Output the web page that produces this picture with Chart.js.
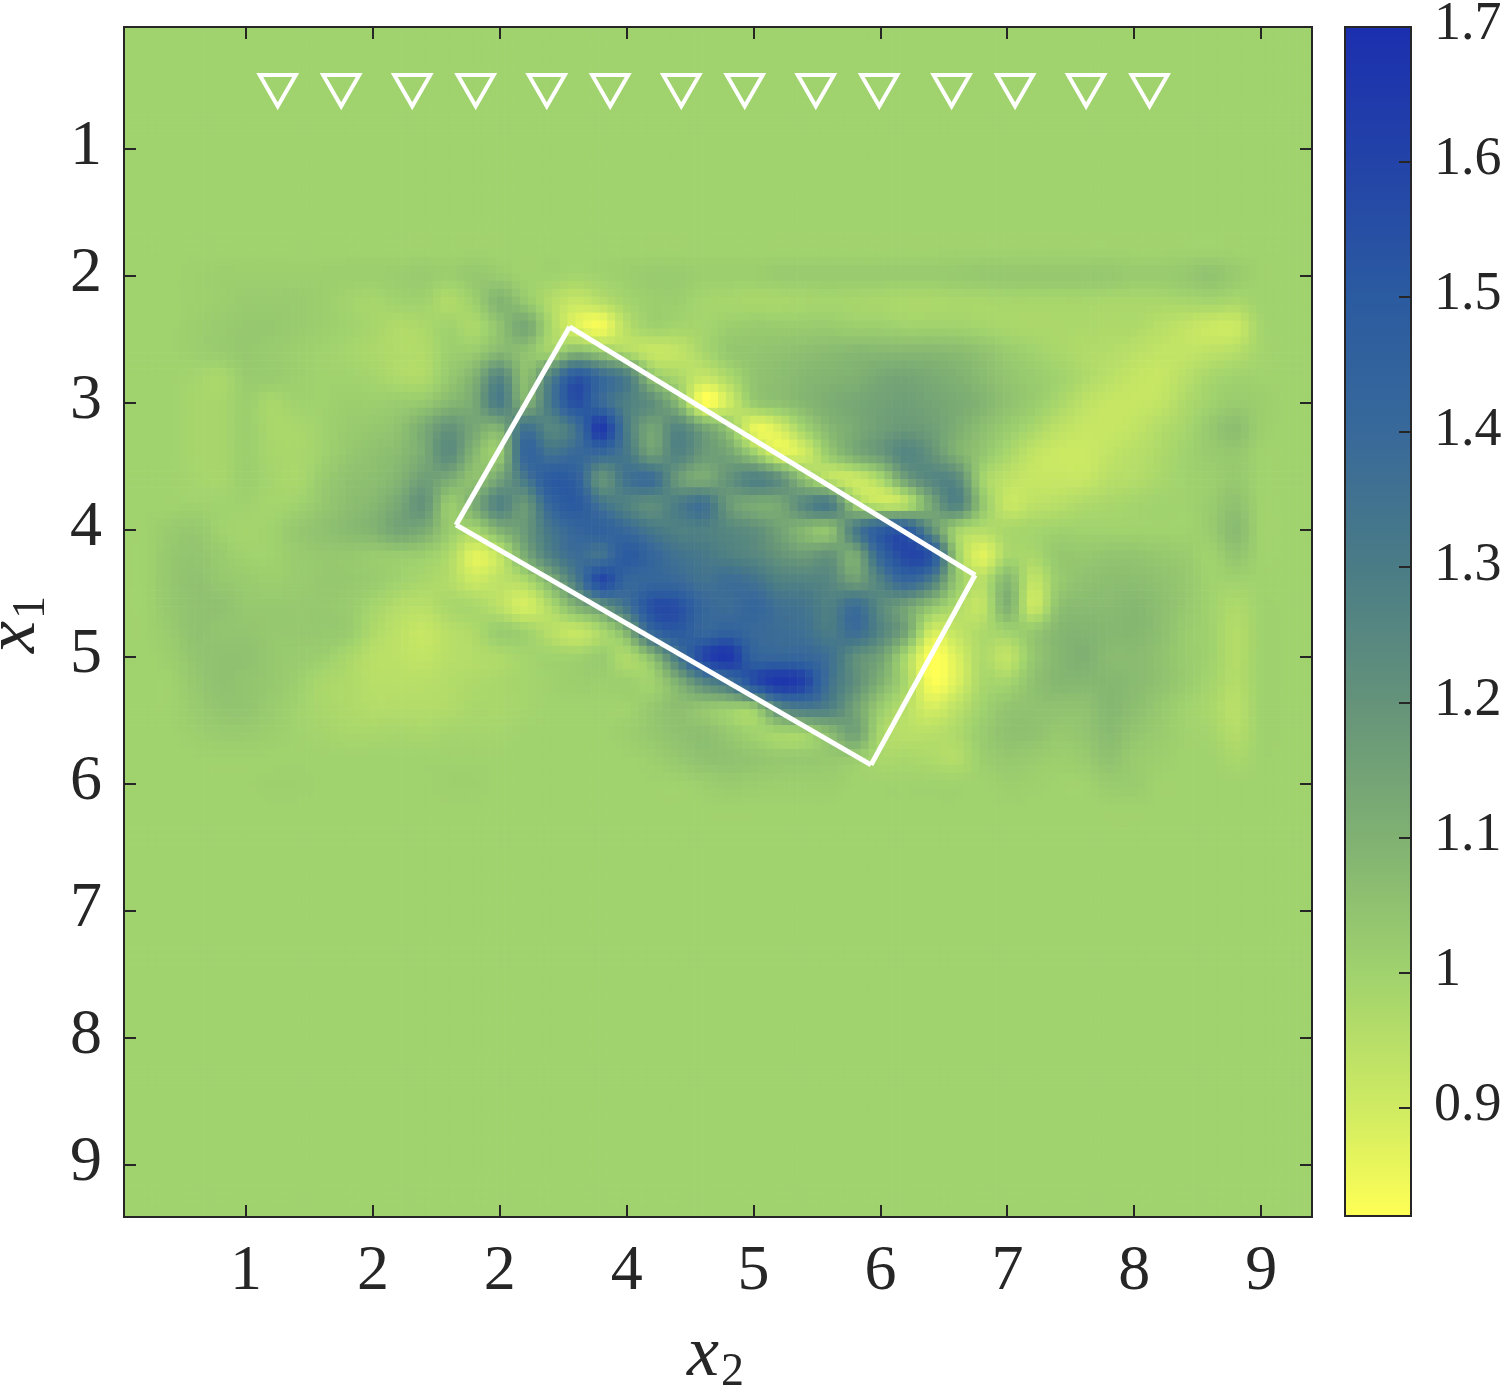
<!DOCTYPE html>
<html>
<head>
<meta charset="utf-8">
<style>
    html, body { margin: 0; padding: 0; background: #fff; }
    canvas { position: absolute; top: 0; }
    #field { left: 0; }
    #bar { left: 1320px; }
</style>
<script src="https://cdn.jsdelivr.net/npm/chart.js@4"></script>
</head>
<body>
<canvas id="field" width="1506" height="1387"></canvas>
<canvas id="bar" width="186" height="1387"></canvas>
<script>
const xTicks = [1, 2, 3, 4, 5, 6, 7, 8, 9];
const xTickLabels = ['1', '2', '2', '4', '5', '6', '7', '8', '9'];
const yTicks = [1, 2, 3, 4, 5, 6, 7, 8, 9];
const barTicks = [0.9, 1, 1.1, 1.2, 1.3, 1.4, 1.5, 1.6, 1.7];
const barTickLabels = ['0.9', '1', '1.1', '1.2', '1.3', '1.4', '1.5', '1.6', '1.7'];

// sensors
const sensorX2 = [1.25, 1.75, 2.31, 2.81, 3.37, 3.87, 4.43, 4.93, 5.49, 5.99, 6.56, 7.06, 7.62, 8.12];
const sensorX1 = [0.5, 0.5, 0.5, 0.5, 0.5, 0.5, 0.5, 0.5, 0.5, 0.5, 0.5, 0.5, 0.5, 0.5];

// inclusion outline, one segment at a time
const outlineX2 = [3.55, 6.745, null, 6.745, 5.925, null, 5.925, 2.655, null, 2.655, 3.55];
const outlineX1 = [2.40, 4.355, null, 4.355, 5.85, null, 5.85, 3.96, null, 3.96, 2.40];

// colour scale
const cmapLevels = [0.82, 0.9, 1.0, 1.1, 1.2, 1.3, 1.4, 1.5, 1.6, 1.7];
const cmapRed = [255, 207, 160, 128, 100, 74, 56, 43, 35, 27];
const cmapGreen = [255, 235, 210, 177, 147, 124, 105, 91, 67, 47];
const cmapBlue = [85, 98, 110, 114, 122, 134, 154, 160, 168, 175];
const barRange = [0.82, 1.7];

const backgroundLevel = 1.0;
const gridX2 = [0.4, 0.6, 0.8, 1, 1.2, 1.4, 1.6, 1.8, 2, 2.2, 2.4, 2.6, 2.8, 3, 3.2, 3.4, 3.6, 3.8, 4, 4.2, 4.4, 4.6, 4.8, 5, 5.2, 5.4, 5.6, 5.8, 6, 6.2, 6.4, 6.6, 6.8, 7, 7.2, 7.4, 7.6, 7.8, 8, 8.2, 8.4, 8.6, 8.8, 9, 9.2];
const gridX1 = [2, 2.2, 2.4, 2.6, 2.8, 3, 3.2, 3.4, 3.6, 3.8, 4, 4.2, 4.4, 4.6, 4.8, 5, 5.2, 5.4, 5.6, 5.8, 6];

const row20 = [1,1.005,1.01,1.01,1.01,1.01,1.01,1.01,1.01,1.015,1.02,1.01,1.03,1.02,1.0,1.0,0.99,1.0,1.01,1.02,1.02,1.01,1.01,1.01,1.02,1.02,1.02,1.02,1.02,1.02,1.02,1.025,1.03,1.03,1.03,1.03,1.03,1.03,1.02,1.02,1.03,1.045,1.02,1.0,1.0];
const row22 = [1,1.005,1.01,1.02,1.02,1.02,1.01,0.995,0.985,1.0,1.0,0.965,1.01,1.09,1.03,0.96,0.92,0.95,0.99,1.01,1.01,0.99,0.985,0.98,0.98,0.985,0.99,0.985,0.98,0.975,0.975,0.98,0.98,0.985,0.985,0.985,0.985,0.98,0.98,0.98,0.985,0.99,0.98,1,1];
const row24 = [1,1.01,1.02,1.03,1.03,1.02,1.01,1.0,0.985,0.965,0.975,1.0,0.975,1.05,1.13,0.98,0.88,0.84,0.95,1.0,0.99,0.99,1.01,1.02,1.02,1.02,1.02,1.01,1.01,1.0,1.0,1.0,0.99,0.98,0.975,0.975,0.975,0.97,0.97,0.95,0.93,0.91,0.91,0.99,1];
const row26 = [1.0,1.01,1.02,1.03,1.02,1.01,1.0,0.99,0.975,0.965,0.965,1.01,1.02,1.08,1.05,1.0,1.08,1.03,0.97,0.92,0.93,0.98,1.03,1.04,1.05,1.06,1.07,1.08,1.08,1.08,1.08,1.07,1.05,1.02,1.0,0.98,0.965,0.96,0.945,0.93,0.93,0.94,0.955,0.99,1];
const row28 = [1.0,0.99,0.98,1.02,1.02,1.01,1.0,1.0,0.99,0.97,0.97,1.03,1.1,1.26,1.06,1.28,1.52,1.4,1.3,1.05,0.98,0.92,0.97,1.04,1.06,1.08,1.09,1.1,1.13,1.14,1.12,1.1,1.07,1.04,1.02,1.0,0.97,0.945,0.925,0.92,0.95,0.985,1.0,1.0,1];
const row30 = [1.0,0.985,0.985,1.01,0.98,1.0,1.0,1.01,1.01,1.02,1.03,1.08,1.13,1.3,1.1,1.32,1.55,1.4,1.28,1.22,1.08,0.83,0.9,1.02,1.05,1.08,1.11,1.13,1.15,1.16,1.14,1.12,1.09,1.05,1.02,0.98,0.94,0.92,0.92,0.93,0.97,1.0,1.02,1.01,1];
const row32 = [1.0,0.985,0.985,1.01,0.98,0.98,1.0,1.02,1.03,1.05,1.12,1.2,1.13,1.1,1.35,1.25,1.35,1.65,1.3,1.14,1.26,1.15,1.04,0.86,0.89,1.0,1.08,1.12,1.16,1.18,1.16,1.11,1.06,1.02,0.98,0.94,0.92,0.92,0.93,0.96,0.985,1.03,1.06,1.01,1];
const row34 = [1.0,0.985,0.985,1.01,0.985,0.98,1.0,1.03,1.05,1.07,1.12,1.23,1.08,1.03,1.42,1.35,1.4,1.4,1.32,1.16,1.27,1.18,1.14,1.02,0.88,0.9,1.03,1.12,1.18,1.26,1.2,1.1,1.04,0.98,0.93,0.91,0.91,0.93,0.95,0.97,1.0,1.02,1.03,1,1];
const row36 = [1.0,0.99,0.985,1.01,0.99,0.98,1.02,1.05,1.06,1.09,1.16,1.12,1.05,1.15,1.32,1.5,1.46,1.2,1.35,1.38,1.18,1.12,1.2,1.28,1.22,1.05,0.94,0.91,0.98,1.16,1.25,1.24,1.0,0.94,0.92,0.92,0.92,0.95,0.96,0.98,1.0,1.01,1.03,1,1];
const row38 = [1.0,1.0,1.0,1.0,0.99,1.0,1.03,1.06,1.08,1.13,1.2,1.02,1.12,1.27,1.18,1.42,1.5,1.35,1.27,1.22,1.3,1.36,1.18,1.12,1.13,1.25,1.3,1.02,0.93,0.95,1.13,1.27,1.04,0.92,0.94,0.95,0.97,0.98,0.99,1.0,1.0,1.02,1.05,1,1];
const row40 = [1.02,1.03,1.0,0.99,1.0,1.03,1.05,1.07,1.09,1.14,1.12,1.02,0.99,1.1,1.18,1.33,1.42,1.45,1.4,1.32,1.28,1.28,1.25,1.22,1.15,1.08,1.05,1.3,1.48,1.5,1.22,1.0,0.96,0.98,0.99,1.0,1.0,1.0,1.0,1.0,1.0,1.02,1.07,1.0,1];
const row42 = [1.03,1.04,1.02,1.0,1.0,1.02,1.03,1.03,1.02,1.02,1.01,0.97,0.87,0.93,1.12,1.28,1.38,1.35,1.5,1.42,1.35,1.32,1.28,1.25,1.2,1.17,1.2,1.12,1.42,1.58,1.52,1.02,0.87,0.98,0.98,1.03,1.03,1.04,1.04,1.03,1.02,1.0,1.04,1.0,1];
const row44 = [1.03,1.05,1.03,1.02,1.01,1.02,1.03,1.03,1.02,1.0,0.98,0.96,0.91,0.94,0.97,1.1,1.3,1.58,1.42,1.42,1.4,1.35,1.38,1.35,1.28,1.27,1.25,1.16,1.28,1.42,1.3,1.03,0.95,1.08,0.93,1.02,1.05,1.06,1.06,1.05,1.03,1.0,1.0,1.0,1];
const row46 = [1.03,1.05,1.05,1.03,1.03,1.03,1.03,1.02,0.99,0.96,0.95,0.98,0.98,0.94,0.89,0.97,1.1,1.2,1.35,1.55,1.55,1.42,1.38,1.42,1.36,1.34,1.28,1.38,1.24,1.15,1.05,0.97,0.93,1.1,0.91,1.05,1.07,1.07,1.08,1.06,1.03,1.0,0.97,1.0,1];
const row48 = [1.02,1.05,1.04,1.04,1.03,1.03,1.03,1.02,0.97,0.94,0.92,0.95,0.97,1.02,1.0,0.95,0.92,0.98,1.1,1.42,1.5,1.42,1.45,1.4,1.38,1.36,1.3,1.38,1.26,1.14,0.9,0.93,0.97,1.0,1.03,1.08,1.09,1.08,1.08,1.06,1.02,1.0,0.96,1.0,1];
const row50 = [1.01,1.04,1.05,1.05,1.03,1.02,1.01,0.98,0.95,0.94,0.93,0.95,0.96,0.97,0.99,1.0,1.0,1.02,0.97,1.07,1.32,1.58,1.66,1.45,1.42,1.42,1.36,1.22,1.15,0.98,0.82,0.88,0.97,0.93,1.03,1.08,1.1,1.07,1.07,1.05,1.02,1.0,0.96,1.0,1];
const row52 = [1.0,1.03,1.05,1.04,1.03,1.01,0.98,0.97,0.95,0.95,0.95,0.96,0.97,0.98,0.99,1.0,1.01,1.01,1.01,1.0,1.1,1.25,1.35,1.55,1.66,1.6,1.35,1.22,1.1,0.98,0.83,0.88,0.98,0.99,1.05,1.08,1.08,1.08,1.07,1.05,1.02,0.99,0.96,1.0,1];
const row54 = [1.0,1.02,1.04,1.04,1.02,1.0,0.98,0.97,0.96,0.96,0.96,0.965,0.98,0.98,0.99,1.0,1.0,1.0,1.0,1.03,1.06,1.04,1.02,1.03,1.25,1.32,1.28,1.15,1.02,0.95,0.89,0.94,1.0,1.04,1.05,1.05,1.05,1.08,1.06,1.03,1.0,0.98,0.95,1.0,1];
const row56 = [1.0,1.01,1.02,1.02,1.01,1.0,0.99,0.98,0.98,0.985,0.98,0.99,0.99,0.99,1.0,1.0,1.0,1.0,1.01,1.03,1.05,1.06,1.03,1.0,0.99,1.0,1.07,1.15,0.98,0.95,0.95,0.97,1.02,1.05,1.05,1.03,1.04,1.07,1.04,1.02,1.0,0.99,0.96,1.0,1];
const row58 = [1.0,1.0,1.0,1.0,1.0,1.0,1.0,1.0,1.0,1.0,1.0,1.0,1.0,1.0,1.0,1.0,1.0,1.0,1.0,1.01,1.03,1.05,1.05,1.04,1.03,1.03,1.03,1.02,0.98,0.98,0.97,0.96,1.01,1.03,1.02,1.01,1.02,1.05,1.02,1.01,1.0,1.0,0.98,1.0,1];
const row60 = [1,1,1.0,1.0,1.005,1.005,1.0,1.0,1.0,1.0,1.0,1.005,1.005,1.0,1.0,1.0,1.0,1.0,1,1,1,1.01,1.02,1.015,1.01,1.01,1.01,1,1,1,1,1,1.0,1.01,1.005,1,1,1.02,1.02,1.0,1,1,1,1,1];

const gridRows = [row20, row22, row24, row26, row28, row30, row32, row34, row36, row38, row40, row42, row44, row46, row48, row50, row52, row54, row56, row58, row60];

const inkColor = '#262626';
const tickFont = { family: '"Liberation Serif"', size: 64 };
const barFont = { family: '"Liberation Serif"', size: 54 };
const tickLength = 12;

const levelColor = (v) => {
    const top = cmapLevels.length - 1;
    let i = 0;
    while (i < top - 1 && v > cmapLevels[i + 1]) i++;
    const t = Math.min(1, Math.max(0, (v - cmapLevels[i]) / (cmapLevels[i + 1] - cmapLevels[i])));
    const mix = (a) => Math.round(a[i] + (a[i + 1] - a[i]) * t);
    return `rgb(${mix(cmapRed)},${mix(cmapGreen)},${mix(cmapBlue)})`;
};

const gridValue = (col, row) => {
    const cells = gridRows[row];
    if (!cells || col < 0 || col >= cells.length) return backgroundLevel;
    return cells[col];
};

// catmull-rom through four neighbours
const blend = (a, b, c, d, t) =>
    b + 0.5 * t * (c - a + t * (2 * a - 5 * b + 4 * c - d + t * (3 * (b - c) + d - a)));

const sampleField = (x2, x1) => {
    const u = (x2 - gridX2[0]) / 0.2;
    const v = (x1 - gridX1[0]) / 0.2;
    const c = Math.floor(u), r = Math.floor(v);
    const line = (k) => blend(gridValue(c - 1, k), gridValue(c, k), gridValue(c + 1, k), gridValue(c + 2, k), u - c);
    return blend(line(r - 1), line(r), line(r + 1), line(r + 2), v - r);
};

const heatPlugin = {
    id: 'heat',
    beforeDatasetsDraw(chart) {
        const { ctx, chartArea, scales } = chart;
        const blocks = 150;
        const w = (chartArea.right - chartArea.left) / blocks;
        const h = (chartArea.bottom - chartArea.top) / blocks;
        for (let j = 0; j < blocks; j++) {
            for (let i = 0; i < blocks; i++) {
                const px = chartArea.left + i * w;
                const py = chartArea.top + j * h;
                const value = sampleField(scales.x.getValueForPixel(px + w / 2), scales.y.getValueForPixel(py + h / 2));
                ctx.fillStyle = levelColor(value);
                ctx.fillRect(px, py, w + 0.6, h + 0.6);
            }
        }
    }
};

const framePlugin = {
    id: 'frame',
    afterDatasetsDraw(chart) {
        const { ctx, chartArea: a, scales } = chart;
        ctx.save();
        ctx.strokeStyle = inkColor;
        ctx.lineWidth = 2;
        ctx.beginPath();
        if (scales.x && scales.x.options.display) {
            xTicks.forEach((t) => {
                const p = Math.round(scales.x.getPixelForValue(t));
                ctx.moveTo(p, a.bottom); ctx.lineTo(p, a.bottom - tickLength);
                ctx.moveTo(p, a.top); ctx.lineTo(p, a.top + tickLength);
            });
            yTicks.forEach((t) => {
                const p = Math.round(scales.y.getPixelForValue(t));
                ctx.moveTo(a.left, p); ctx.lineTo(a.left + tickLength, p);
                ctx.moveTo(a.right, p); ctx.lineTo(a.right - tickLength, p);
            });
        } else {
            barTicks.forEach((t) => {
                const p = Math.round(scales.y.getPixelForValue(t));
                ctx.moveTo(a.right, p); ctx.lineTo(a.right - tickLength, p);
            });
        }
        ctx.stroke();
        ctx.strokeRect(a.left, a.top, a.right - a.left, a.bottom - a.top);
        ctx.restore();
    }
};

// axis names with a real subscript, the scale title can't do that
const axisNames = {
    id: 'axisNames',
    afterDraw(chart) {
        const { ctx } = chart;
        ctx.save();
        ctx.fillStyle = inkColor;
        ctx.textAlign = 'left';
        ctx.textBaseline = 'alphabetic';
        const word = (sub, x, y) => {
            ctx.font = 'italic 72px "Liberation Serif"';
            ctx.fillText('x', x, y);
            ctx.font = '46px "Liberation Serif"';
            ctx.fillText(sub, x + 34, y + 10);
        };
        word('2', 687, 1375);
        ctx.translate(34, 653);
        ctx.rotate(-Math.PI / 2);
        word('1', 0, 0);
        ctx.restore();
    }
};

// labels must not add margins, the plot box is fixed
const noLabelMarginY = (s) => { s.paddingTop = 0; s.paddingBottom = 0; };
const noLabelMarginX = (s) => { s.paddingLeft = 0; s.paddingRight = 0; };

new Chart(document.getElementById('field'), {
    type: 'scatter',
    plugins: [heatPlugin, framePlugin, axisNames],
    data: {
        datasets: [{
            label: 'Sensors',
            data: sensorX2.map((x, i) => ({ x, y: sensorX1[i] })),
            pointStyle: 'triangle',
            pointRotation: 180,
            pointRadius: 20.8,
            pointBorderWidth: 4,
            pointBorderColor: '#ffffff',
            pointBackgroundColor: 'rgba(0,0,0,0)'
        }, {
            label: 'Inclusion',
            data: outlineX2.map((x, i) => ({ x, y: outlineX1[i] })),
            showLine: true,
            spanGaps: false,
            pointRadius: 0,
            borderWidth: 5,
            borderColor: '#ffffff'
        }]
    },
    options: {
        responsive: false,
        animation: false,
        layout: { padding: { top: 27, right: 194, bottom: 0, left: 0 } },
        plugins: { legend: { display: false }, tooltip: { enabled: false } },
        scales: {
            x: {
                type: 'linear',
                position: 'bottom',
                min: 0.0386,
                max: 9.4,
                afterBuildTicks: (s) => { s.ticks = xTicks.map((value) => ({ value })); },
                afterFit: (s) => { s.height = 170; noLabelMarginX(s); },
                grid: { display: false },
                border: { display: false },
                ticks: {
                    autoSkip: false,
                    maxRotation: 0,
                    padding: 9,
                    color: inkColor,
                    font: tickFont,
                    callback: (v) => xTickLabels[xTicks.indexOf(v)]
                }
            },
            y: {
                type: 'linear',
                position: 'left',
                reverse: true,
                min: 0.0394,
                max: 9.41,
                afterBuildTicks: (s) => { s.ticks = yTicks.map((value) => ({ value })); },
                afterFit: (s) => { s.width = 124; noLabelMarginY(s); },
                grid: { display: false },
                border: { display: false },
                ticks: {
                    autoSkip: false,
                    padding: 14,
                    labelOffset: -2,
                    color: inkColor,
                    font: tickFont,
                    callback: (v) => String(v)
                }
            }
        }
    }
});

new Chart(document.getElementById('bar'), {
    type: 'bar',
    plugins: [framePlugin],
    data: {
        labels: ['level'],
        datasets: [{
            data: [barRange],
            barPercentage: 1,
            categoryPercentage: 1,
            borderSkipped: false,
            backgroundColor: (c) => {
                const { chart } = c;
                if (!chart.chartArea) return levelColor(backgroundLevel);
                const y = chart.scales.y;
                const g = chart.ctx.createLinearGradient(0, y.getPixelForValue(barRange[0]), 0, y.getPixelForValue(barRange[1]));
                cmapLevels.forEach((v) => {
                    g.addColorStop((v - barRange[0]) / (barRange[1] - barRange[0]), levelColor(v));
                });
                return g;
            }
        }]
    },
    options: {
        responsive: false,
        animation: false,
        layout: { padding: { top: 27, right: 0, bottom: 171, left: 25 } },
        plugins: { legend: { display: false }, tooltip: { enabled: false } },
        scales: {
            x: {
                display: false,
                grid: { display: false }
            },
            y: {
                type: 'linear',
                position: 'right',
                min: barRange[0],
                max: barRange[1],
                afterBuildTicks: (s) => { s.ticks = barTicks.map((value) => ({ value })); },
                afterFit: (s) => { s.width = 95; noLabelMarginY(s); },
                grid: { display: false },
                border: { display: false },
                ticks: {
                    autoSkip: false,
                    padding: 15,
                    labelOffset: -2,
                    color: inkColor,
                    font: barFont,
                    callback: (v) => barTickLabels[barTicks.indexOf(v)]
                }
            }
        }
    }
});
</script>
</body>
</html>
